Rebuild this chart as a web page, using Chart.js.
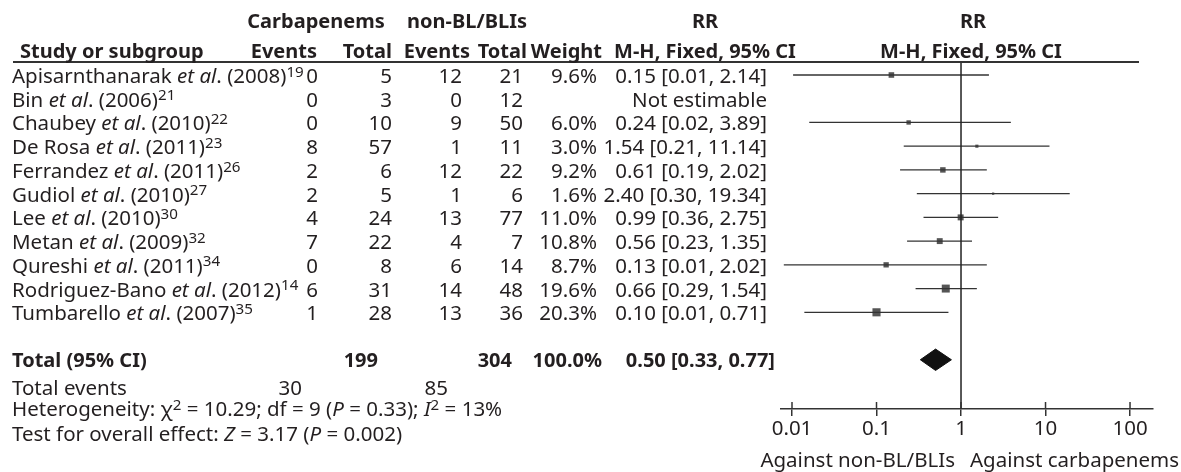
<!DOCTYPE html>
<html><head><meta charset="utf-8">
<script src="https://cdn.jsdelivr.net/npm/chart.js@4.4.0/dist/chart.umd.min.js"></script>
<style>
html,body{margin:0;padding:0;background:#fff;}
#wrap{position:relative;width:1181px;height:472px;overflow:hidden;font-family:'Noto Sans',sans-serif;font-size:20.5px;color:#231f20;}
#c{position:absolute;left:0;top:0;}
.t{position:absolute;white-space:nowrap;line-height:22px;height:22px;}
.b{font-weight:bold;font-size:20px;}
.t sup{font-size:0.74em;position:relative;top:-0.42em;line-height:0;vertical-align:baseline;}
.rule{position:absolute;left:13px;width:1126px;top:61px;height:2px;background:#333;}
</style>
</head>
<body>
<div id="wrap"><canvas id="c" width="1181" height="472"></canvas><div class="rule"></div></div>
<script>
// ---- data ----
const studyAuthors = ["Apisarnthanarak","Bin","Chaubey","De Rosa","Ferrandez","Gudiol","Lee","Metan","Qureshi","Rodriguez-Bano","Tumbarello"];
const studyYears = [2008,2006,2010,2011,2011,2010,2010,2009,2011,2012,2007];
const studyRefs = [19,21,22,23,26,27,30,32,34,14,35];
const carbEvents = [0,0,0,8,2,2,4,7,0,6,1];
const carbTotals = [5,3,10,57,6,5,24,22,8,31,28];
const nonEvents = [12,0,9,1,12,1,13,4,6,14,13];
const nonTotals = [21,12,50,11,22,6,77,7,14,48,36];
const weights = [9.6,null,6.0,3.0,9.2,1.6,11.0,10.8,8.7,19.6,20.3];
const rr = [0.15,null,0.24,1.54,0.61,2.40,0.99,0.56,0.13,0.66,0.10];
const ciLow = [0.0103,null,0.016,0.21,0.19,0.30,0.36,0.23,0.008,0.29,0.014];
const ciHigh = [2.14,null,3.89,11.14,2.02,19.34,2.75,1.35,2.02,1.54,0.71];
const totalParticipants = [199,304];
const totalEvents = [30,85];
const totalWeight = 100.0;
const pooled = [0.50,0.33,0.77];
const xTicks = [0.01,0.1,1,10,100];
const favourLabels = ["Against non-BL/BLIs","Against carbapenems"];

const TOTAL_ROW = 12;
const INK = '#231f20';
Chart.defaults.font.family = "'Noto Sans', sans-serif";
Chart.defaults.color = INK;

const datasets = [];
// line of no effect
datasets.push({data:[{x:1,y:-0.548},{x:1,y:14.075}],showLine:true,borderColor:'#222',borderWidth:1.5,pointRadius:0});
// confidence intervals
rr.forEach((v,i)=>{
  if(v==null) return;
  datasets.push({data:[{x:ciLow[i],y:i},{x:ciHigh[i],y:i}],showLine:true,borderColor:'#333',borderWidth:1.3,pointRadius:0});
});
// point estimates (square size by weight)
const pts=[],rads=[];
rr.forEach((v,i)=>{ if(v==null) return; pts.push({x:v,y:i}); rads.push(1.8*Math.sqrt(weights[i])/Math.SQRT2); });
datasets.push({data:pts,pointStyle:'rect',pointRadius:rads,backgroundColor:'#555',borderWidth:0,showLine:false});
// pooled diamond
const h=0.45;
datasets.push({data:[{x:pooled[1],y:TOTAL_ROW},{x:pooled[0],y:TOTAL_ROW-h},{x:pooled[2],y:TOTAL_ROW},{x:pooled[0],y:TOTAL_ROW+h},{x:pooled[1],y:TOTAL_ROW}],
  showLine:true,fill:'shape',backgroundColor:'#111',borderColor:'#111',borderWidth:1,pointRadius:0,tension:0});

const tickTops = {id:'tickTops',afterDraw(chart){
  const {ctx,scales:{x},chartArea}=chart; ctx.save(); ctx.strokeStyle='#333'; ctx.lineWidth=1.5;
  xTicks.forEach(v=>{const px=x.getPixelForValue(v); ctx.beginPath(); ctx.moveTo(px,chartArea.bottom-7); ctx.lineTo(px,chartArea.bottom); ctx.stroke();});
  ctx.restore();
}};

const chart = new Chart(document.getElementById('c'),{
  type:'scatter',
  data:{datasets},
  options:{
    responsive:false,animation:false,devicePixelRatio:1,events:[],
    layout:{padding:{left:781,right:28,top:62,bottom:0}},
    plugins:{legend:{display:false},tooltip:{enabled:false}},
    scales:{
      x:{type:'logarithmic',min:0.00741,max:187,
        afterBuildTicks(s){s.ticks=xTicks.map(v=>({value:v}));},
        afterFit(s){s.height=63;},
        ticks:{callback:v=>String(v),font:{size:20.5},color:INK,padding:1,maxRotation:0,autoSkip:false},
        grid:{display:true,drawOnChartArea:false,drawTicks:true,tickLength:7,color:'#333',lineWidth:1.5},
        border:{display:true,color:'#333',width:1.5}},
      y:{type:'linear',min:-0.548,max:14.075,reverse:true,display:false}
    }
  },
  plugins:[tickTops]
});

// ---- table text ----
const wrap=document.getElementById('wrap');
function put(html,x,y,align,cls){
  const d=document.createElement('div'); d.className='t '+(cls||''); d.innerHTML=html;
  d.style.top=(y-11)+'px';
  if(align==='left') d.style.left=x+'px';
  else if(align==='right') d.style.right=(1181-x)+'px';
  else {d.style.left=x+'px'; d.style.transform='translateX(-50%)';}
  wrap.appendChild(d);
}
const f2=v=>v.toFixed(2);
const yS=chart.scales.y;
// headers
put('Carbapenems',316,21,'center','b');
put('non-BL/BLIs',467,21,'center','b');
put('RR',705,21,'center','b');
put('RR',973,21,'center','b');
put('Study or subgroup',20,51,'left','b');
put('Events',317,51,'right','b');
put('Total',392,51,'right','b');
put('Events',470,51,'right','b');
put('Total',527,51,'right','b');
put('Weight',602,51,'right','b');
put('M-H, Fixed, 95% CI',705,51,'center','b');
put('M-H, Fixed, 95% CI',971,51,'center','b');
// rows
studyAuthors.forEach((a,i)=>{
  const y=yS.getPixelForValue(i);
  put(a+' <i>et al</i>. ('+studyYears[i]+')<sup>'+studyRefs[i]+'</sup>',12,y,'left');
  put(String(carbEvents[i]),318,y,'right');
  put(String(carbTotals[i]),392,y,'right');
  put(String(nonEvents[i]),462,y,'right');
  put(String(nonTotals[i]),523,y,'right');
  if(weights[i]!=null) put(weights[i].toFixed(1)+'%',597,y,'right');
  put(rr[i]==null?'Not estimable':f2(rr[i])+' ['+f2(ciLow[i])+', '+f2(ciHigh[i])+']',767,y,'right');
});
const yt=yS.getPixelForValue(TOTAL_ROW);
put('Total (95% CI)',12,yt,'left','b');
put(String(totalParticipants[0]),378,yt,'right','b');
put(String(totalParticipants[1]),512,yt,'right','b');
put(totalWeight.toFixed(1)+'%',602,yt,'right','b');
put(f2(pooled[0])+' ['+f2(pooled[1])+', '+f2(pooled[2])+']',775,yt,'right','b');
put('Total events',12,386.5,'left');
put(String(totalEvents[0]),302,386.5,'right');
put(String(totalEvents[1]),448,386.5,'right');
put('Heterogeneity: χ<sup>2</sup> = 10.29; df = 9 (<i>P</i> = 0.33); <i>I</i><sup>2</sup> = 13%',12,408,'left');
put('Test for overall effect: <i>Z</i> = 3.17 (<i>P</i> = 0.002)',12,432.5,'left');
put(favourLabels[0],955,458.5,'right');
put(favourLabels[1],970,458.5,'left');
</script>
</body></html>
